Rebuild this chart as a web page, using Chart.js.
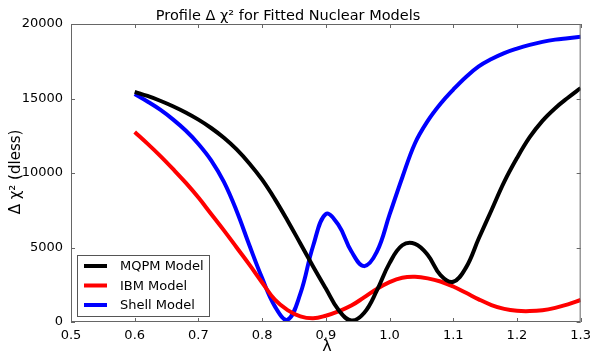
<!DOCTYPE html>
<html>
<head>
<meta charset="utf-8">
<script src="https://cdn.jsdelivr.net/npm/chart.js@4.4.1/dist/chart.umd.min.js"></script>
<style>
  html, body { margin: 0; padding: 0; background: #fff; }
  #wrap { width: 597px; height: 355px; }
</style>
</head>
<body>
<div id="wrap"><canvas id="chiChart" width="597" height="355"></canvas></div>
<script>
var lambdas = [0.60, 0.62, 0.64, 0.66, 0.68, 0.70, 0.72, 0.74, 0.76, 0.78,
               0.80, 0.82, 0.84, 0.86, 0.88, 0.90, 0.92, 0.94, 0.96, 0.98,
               1.00, 1.02, 1.04, 1.06, 1.08, 1.10, 1.12, 1.14, 1.16, 1.18,
               1.20, 1.22, 1.24, 1.26, 1.28, 1.30];

var mqpmValues = [15450, 15170, 14850, 14480, 14060, 13580, 13020, 12360, 11580, 10640,
                  9550, 8250, 6800, 5270, 3730, 2250, 800, 100, 600, 2100,
                  3950, 5150, 5250, 4500, 3150, 2700, 3650, 5600, 7500, 9400,
                  11000, 12400, 13500, 14350, 15050, 15700];

var ibmValues = [12750, 11970, 11150, 10270, 9350, 8350, 7250, 6150, 5000, 3850,
                 2650, 1500, 800, 380, 250, 420, 720, 1100, 1650, 2220,
                 2680, 2970, 3030, 2930, 2720, 2380, 1960, 1520, 1140, 880,
                 750, 730, 790, 950, 1180, 1480];

var shellValues = [15300, 14800, 14250, 13600, 12850, 11950, 10850, 9400, 7450, 5150,
                   2950, 1050, 150, 1900, 5100, 7250, 6500, 4750, 3750, 4700,
                   7200, 9700, 12000, 13500, 14650, 15600, 16450, 17150, 17650, 18050,
                   18350, 18600, 18800, 18950, 19050, 19150];

var seriesNames = ['MQPM Model', 'IBM Model', 'Shell Model'];
var seriesColors = ['#000000', '#ff0000', '#0000ff'];

function toPoints(vals) {
    return lambdas.map(function (x, i) { return { x: x, y: vals[i] }; });
}

var FONT = "'DejaVu Sans', sans-serif";

// frame, inward ticks, texts and legend
var decorPlugin = {
    id: 'decor',
    afterDraw: function (chart) {
        var ctx = chart.ctx;
        var a = chart.chartArea;
        var xs = chart.scales.x, ys = chart.scales.y;
        ctx.save();
        ctx.strokeStyle = '#666';
        ctx.lineWidth = 1;
        ctx.strokeRect(a.left + 0.5, a.top + 0.5, a.right - a.left - 1, a.bottom - a.top - 1);

        ctx.beginPath();
        xs.ticks.forEach(function (t) {
            var px = Math.round(xs.getPixelForValue(t.value)) + 0.5;
            ctx.moveTo(px, a.bottom); ctx.lineTo(px, a.bottom - 4);
            ctx.moveTo(px, a.top); ctx.lineTo(px, a.top + 4);
        });
        ys.ticks.forEach(function (t) {
            var py = Math.round(ys.getPixelForValue(t.value)) + 0.5;
            ctx.moveTo(a.left, py); ctx.lineTo(a.left + 4, py);
            ctx.moveTo(a.right, py); ctx.lineTo(a.right - 4, py);
        });
        ctx.stroke();

        // title
        ctx.fillStyle = '#000';
        ctx.font = '14.5px ' + FONT;
        ctx.textAlign = 'center';
        ctx.textBaseline = 'alphabetic';
        ctx.fillText('Profile \u0394 \u03c7\u00b2 for Fitted Nuclear Models', 288, 20);

        // x label
        ctx.font = '16px ' + FONT;
        ctx.fillText('\u03bb', 327, 351);

        // y label
        ctx.save();
        ctx.translate(20, 172);
        ctx.rotate(-Math.PI / 2);
        ctx.font = '15px ' + FONT;
        ctx.fillText('\u0394 \u03c7\u00b2 (dless)', 0, 0);
        ctx.restore();

        // legend
        ctx.fillStyle = '#fff';
        ctx.fillRect(77, 255, 132, 61);
        ctx.strokeStyle = '#555';
        ctx.strokeRect(77.5, 255.5, 132, 61);
        ctx.font = '13px ' + FONT;
        ctx.textAlign = 'left';
        ctx.textBaseline = 'middle';
        chart.data.datasets.forEach(function (ds, i) {
            var y = 266 + i * 19.5;
            ctx.strokeStyle = ds.borderColor;
            ctx.lineWidth = 4;
            ctx.beginPath();
            ctx.moveTo(84, y); ctx.lineTo(107, y);
            ctx.stroke();
            ctx.fillStyle = '#000';
            ctx.fillText(ds.label, 120, y + 1);
        });
        ctx.restore();
    }
};

new Chart(document.getElementById('chiChart').getContext('2d'), {
    type: 'line',
    data: {
        datasets: seriesNames.map(function (name, i) {
            return {
                label: name,
                data: toPoints([mqpmValues, ibmValues, shellValues][i]),
                borderColor: seriesColors[i],
                backgroundColor: seriesColors[i],
                borderWidth: 4,
                pointRadius: 0,
                tension: 0.4,
                fill: false
            };
        })
    },
    options: {
        responsive: false,
        animation: false,
        layout: { padding: { left: 0, right: 13, top: 24, bottom: 0 } },
        plugins: {
            legend: { display: false },
            title: { display: false },
            tooltip: { enabled: false }
        },
        scales: {
            x: {
                type: 'linear',
                min: 0.5,
                max: 1.3,
                ticks: {
                    stepSize: 0.1,
                    color: '#000',
                    font: { family: FONT, size: 13 },
                    padding: 6,
                    maxRotation: 0,
                    callback: function (v) { return v.toFixed(1); }
                },
                grid: { display: false, drawTicks: false },
                border: { display: false },
                afterFit: function (s) { s.height = 33; }
            },
            y: {
                min: 0,
                max: 20000,
                ticks: {
                    stepSize: 5000,
                    color: '#000',
                    font: { family: FONT, size: 13 },
                    padding: 8,
                    callback: function (v) { return String(v); }
                },
                grid: { display: false, drawTicks: false },
                border: { display: false },
                afterFit: function (s) { s.width = 71; }
            }
        }
    },
    plugins: [decorPlugin]
});
</script>
</body>
</html>
